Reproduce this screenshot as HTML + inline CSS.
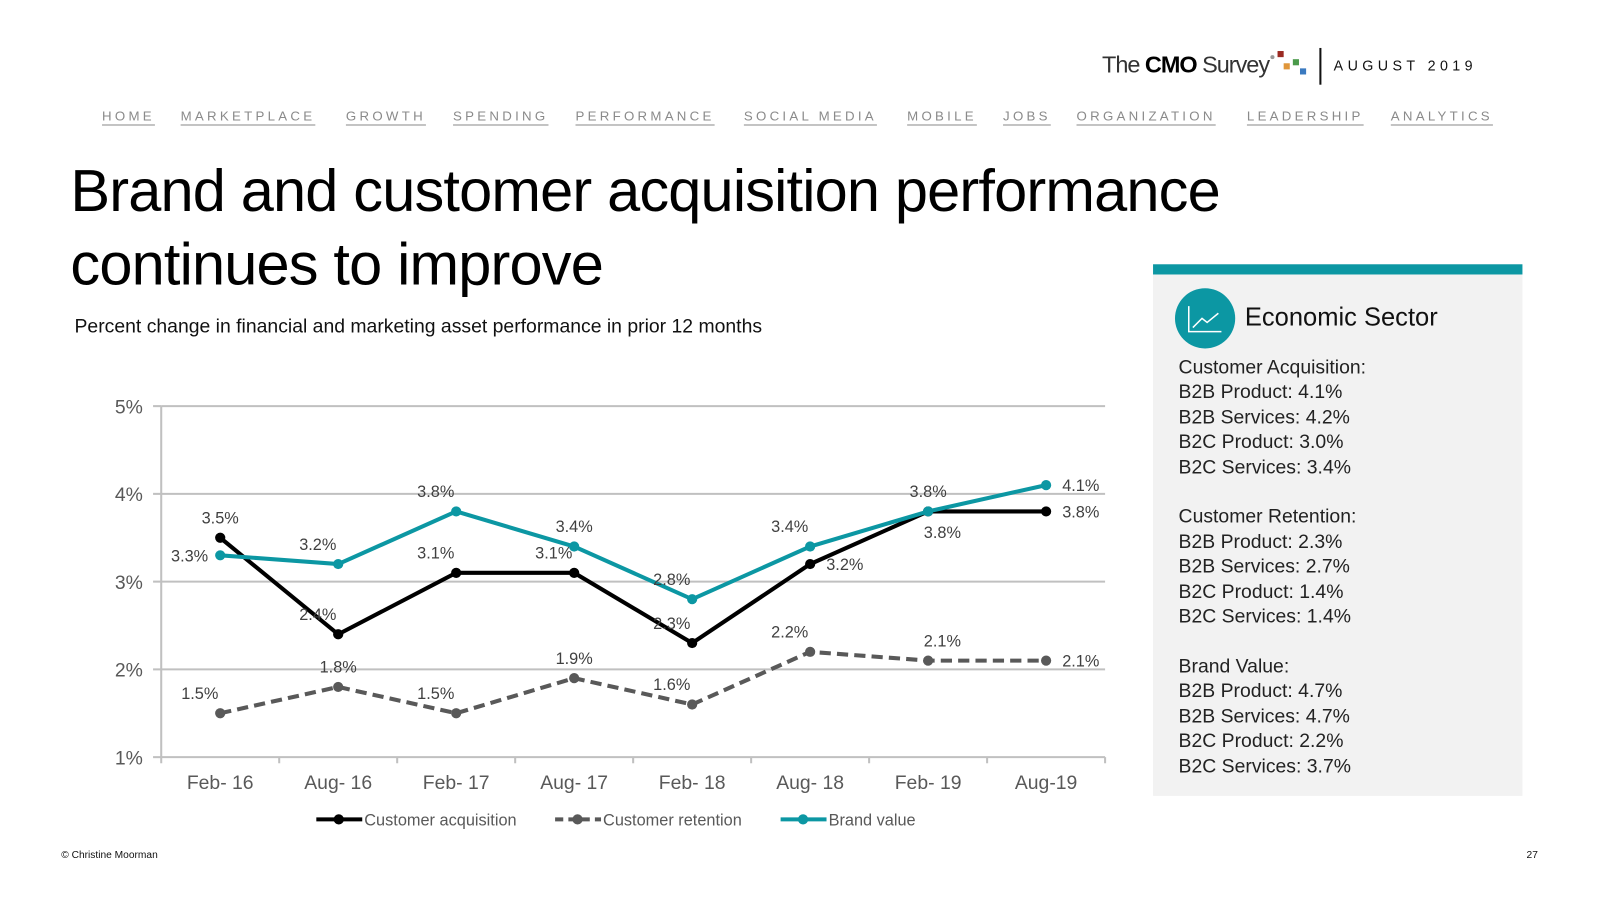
<!DOCTYPE html>
<html><head><meta charset="utf-8">
<style>
body{margin:0;width:1600px;height:900px;background:#fff;position:relative;overflow:hidden;font-family:"Liberation Sans",sans-serif;color:#111}
#wrap{position:absolute;left:0;top:0;width:1600px;height:900px;transform:scale(1.0204);transform-origin:0 0}
.abs{position:absolute;white-space:nowrap}
.nav a{position:absolute;top:106px;font-size:13px;letter-spacing:3.2px;color:#8a8a8a;text-decoration:underline;text-underline-offset:4px}
.panel-line{font-size:19px;color:#222;line-height:24.4px}
</style></head><body>
<div id="wrap">
<div class="abs" style="left:1080px;top:50px;font-size:23px;letter-spacing:-1px;color:#333">The <b style="color:#000">CMO</b> Survey</div>
<svg class="abs" style="left:1242px;top:48px" width="40" height="28"><rect x="10" y="2" width="6" height="6" fill="#9b2a22"/><rect x="16" y="14" width="6" height="6" fill="#e0963a"/><rect x="25" y="10" width="6" height="6" fill="#4a9a4a"/><rect x="32" y="19" width="6" height="6" fill="#3a7ac0"/><circle cx="5" cy="8" r="2" fill="#999"/></svg>
<div class="abs" style="left:1293px;top:47px;width:1.5px;height:36px;background:#111"></div>
<div class="abs" style="left:1307px;top:56px;font-size:14px;letter-spacing:4.3px;color:#111">AUGUST 2019</div>
<div class="nav">
<a style="left:100px">HOME</a>
<a style="left:177px">MARKETPLACE</a>
<a style="left:339px">GROWTH</a>
<a style="left:444px">SPENDING</a>
<a style="left:564px">PERFORMANCE</a>
<a style="left:729px">SOCIAL MEDIA</a>
<a style="left:889px">MOBILE</a>
<a style="left:983px">JOBS</a>
<a style="left:1055px">ORGANIZATION</a>
<a style="left:1222px">LEADERSHIP</a>
<a style="left:1363px">ANALYTICS</a>
</div>
<div class="abs" style="left:69px;top:152px;font-size:58.3px;line-height:72px;letter-spacing:-0.8px;color:#000">Brand and customer acquisition performance<br>continues to improve</div>
<div class="abs" style="left:73px;top:310px;font-size:19px;color:#111">Percent change in financial and marketing asset performance in prior 12 months</div>

<div class="abs" style="left:1130px;top:259px;width:362px;height:521px;background:#f2f2f2;border-top:10px solid #0c97a3;box-sizing:border-box"></div>
<svg class="abs" style="left:1151px;top:282px" width="60" height="60"><circle cx="30" cy="30" r="29.5" fill="#0c97a3"/><path d="M14 18 V43 H46" stroke="#fff" stroke-width="1.5" fill="none"/><path d="M18 39 L27 30 L32 34 L43 25" stroke="#fff" stroke-width="1.5" fill="none"/></svg>
<div class="abs" style="left:1220px;top:297px;font-size:25px;color:#111">Economic Sector</div>
<div class="abs panel-line" style="left:1155px;top:349px">Customer Acquisition:<br>B2B Product: 4.1%<br>B2B Services: 4.2%<br>B2C Product: 3.0%<br>B2C Services: 3.4%<br><br>Customer Retention:<br>B2B Product: 2.3%<br>B2B Services: 2.7%<br>B2C Product: 1.4%<br>B2C Services: 1.4%<br><br>Brand Value:<br>B2B Product: 4.7%<br>B2B Services: 4.7%<br>B2C Product: 2.2%<br>B2C Services: 3.7%</div>

<div class="abs" style="left:60px;top:833px;font-size:10px;color:#111">© Christine Moorman</div>
<div class="abs" style="left:1496px;top:833px;font-size:10px;color:#111">27</div>

<svg id="chart" class="abs" style="left:0;top:0" width="1600" height="900"></svg>
</div>
<script>
const categories=["Feb- 16","Aug- 16","Feb- 17","Aug- 17","Feb- 18","Aug- 18","Feb- 19","Aug-19"];
const acquisition=[3.5,2.4,3.1,3.1,2.3,3.2,3.8,3.8];
const retention=[1.5,1.8,1.5,1.9,1.6,2.2,2.1,2.1];
const brand=[3.3,3.2,3.8,3.4,2.8,3.4,3.8,4.1];
const acqPlace=["a","al","al","al","al","r","br","r"];
const retPlace=["al","a","al","a","al","al","ar","r"];
const brandPlace=["l","al","al","a","al","al","a","r"];
const yTicks=[1,2,3,4,5];
const seriesNames=["Customer acquisition","Customer retention","Brand value"];

const NS="http://www.w3.org/2000/svg";
const svg=document.getElementById('chart');
const L=158,R=1083,T=398,B=742,ymin=1,ymax=5;
const bw=(R-L)/categories.length;
function x(i){return L+bw*(i+0.5);}
function y(v){return B-(v-ymin)/(ymax-ymin)*(B-T);}
function mk(tag,a){const e=document.createElementNS(NS,tag);for(const k in a)e.setAttribute(k,a[k]);svg.appendChild(e);return e;}
yTicks.forEach(t=>{
  const g=mk('line',{x1:L,x2:R,y1:y(t),y2:y(t),stroke:'#c0c0c0','stroke-width':2});
  
  
  const tk=mk('line',{x1:L-8,x2:L,y1:y(t),y2:y(t),stroke:'#c0c0c0','stroke-width':2});
  
  
  const lb=mk('text',{x:140,y:y(t)+7,'text-anchor':'end','font-size':19,fill:'#595959','font-family':'Liberation Sans'});
  lb.textContent=t+'%';
  
  
});
const ya=mk('line',{x1:L,x2:L,y1:T,y2:B,stroke:'#c0c0c0','stroke-width':2});


for(let i=0;i<=categories.length;i++){
  const tk=mk('line',{x1:L+bw*i,x2:L+bw*i,y1:B,y2:B+6,stroke:'#c0c0c0','stroke-width':2});
  
  
}
categories.forEach((c,i)=>{
  const lb=mk('text',{x:x(i),y:773,'text-anchor':'middle','font-size':19,fill:'#595959','font-family':'Liberation Sans'});
  lb.textContent=c;
  
  
});
const off={a:[0,-20],al:[-20,-20],ar:[14,-20],l:[-30,0],r:[34,0],br:[14,20]};
function series(vals,place,color,dash,name){
  const pts=vals.map((v,i)=>x(i)+','+y(v)).join(' ');
  const pl=mk('polyline',{points:pts,fill:'none',stroke:color,'stroke-width':4,'stroke-dasharray':dash});
  
  
  vals.forEach((v,i)=>{
    const c=mk('circle',{cx:x(i),cy:y(v),r:5,fill:color});
    
    
    const o=off[place[i]];
    const t=mk('text',{x:x(i)+o[0],y:y(v)+o[1]+6,'text-anchor':'middle','font-size':16,fill:'#404040','font-family':'Liberation Sans'});
    t.textContent=v.toFixed(1)+'%';
    
    
  });
}
series(retention,retPlace,'#595959','11 6','retention');
series(acquisition,acqPlace,'#000','none','acquisition');
series(brand,brandPlace,'#0c97a3','none','brand');
const legend=[[310,'#000','none'],[544,'#595959','8 5'],[765,'#0c97a3','none']];
legend.forEach((l,i)=>{
  const ln=mk('line',{x1:l[0],x2:l[0]+45,y1:803,y2:803,stroke:l[1],'stroke-width':4,'stroke-dasharray':l[2]});
  
  
  const c=mk('circle',{cx:l[0]+22,cy:803,r:5,fill:l[1]});
  
  
  const t=mk('text',{x:l[0]+47,y:809,'font-size':16,fill:'#595959','font-family':'Liberation Sans'});
  t.textContent=seriesNames[i];
  
  
});
</script>
</body></html>
